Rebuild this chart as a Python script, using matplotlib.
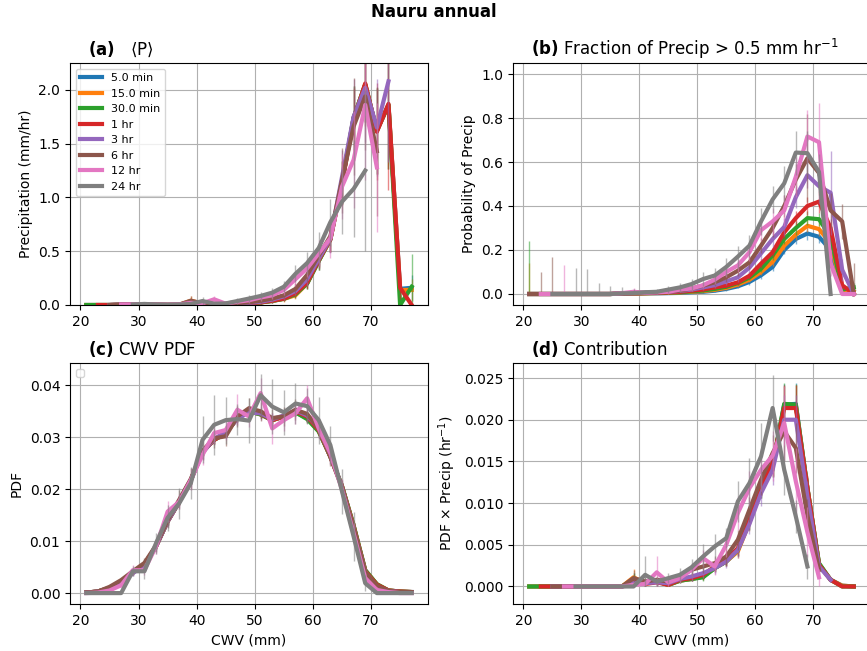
import matplotlib.pyplot as plt
import numpy as np

nan = np.nan

# CWV bin centres (mm)
cwv = [21, 23, 25, 27, 29, 31, 33, 35, 37, 39, 41, 43, 45, 47, 49,
       51, 53, 55, 57, 59, 61, 63, 65, 67, 69, 71, 73, 75, 77]

labels = ['5.0 min', '15.0 min', '30.0 min', '1 hr', '3 hr', '6 hr', '12 hr', '24 hr']
colors = ['tab:blue', 'tab:orange', 'tab:green', 'tab:red',
          'tab:purple', 'tab:brown', 'tab:pink', 'tab:gray']

# (a) conditional mean precip (mm/hr)
precip_mean = [
    [0, 0, 0, 0.003, 0.005, 0.004, 0.002, 0.001, 0.002, 0.03, 0.012, 0.006, 0.008, 0.010, 0.015,
     0.024, 0.038, 0.058, 0.10, 0.20, 0.41, 0.61, 1.14, 1.74, 2.05, 1.62, 1.86, 0.15, 0.16],
    [0, 0, 0, 0.003, 0.005, 0.004, 0.002, 0.001, 0.002, 0.04, 0.012, 0.006, 0.008, 0.010, 0.015,
     0.024, 0.038, 0.057, 0.09, 0.20, 0.41, 0.61, 1.14, 1.74, 2.05, 1.62, 1.86, 0.14, 0.14],
    [0, 0, 0, 0.003, 0.005, 0.004, 0.002, 0.001, 0.002, 0.03, 0.012, 0.006, 0.008, 0.010, 0.015,
     0.024, 0.038, 0.058, 0.10, 0.20, 0.41, 0.61, 1.14, 1.74, 2.05, 1.62, 1.86, 0.0, 0.17],
    [nan, 0, 0, 0.003, 0.005, 0.004, 0.002, 0.001, 0.002, 0.03, 0.012, 0.006, 0.008, 0.010, 0.015,
     0.025, 0.040, 0.060, 0.11, 0.21, 0.42, 0.61, 1.13, 1.72, 2.06, 1.61, 1.87, 0.16, 0.0],
    [nan, nan, 0, 0.004, 0.005, 0.004, 0.002, 0.001, 0.003, 0.02, 0.012, 0.008, 0.010, 0.015, 0.020,
     0.030, 0.050, 0.080, 0.13, 0.24, 0.43, 0.62, 1.19, 1.75, 2.02, 1.65, 2.08, nan, nan],
    [nan, nan, 0, 0.004, 0.006, 0.004, 0.003, 0.001, 0.004, 0.04, 0.015, 0.010, 0.012, 0.018, 0.025,
     0.040, 0.060, 0.090, 0.15, 0.28, 0.46, 0.64, 1.16, 1.66, 1.94, 1.43, nan, nan, nan],
    [nan, nan, nan, 0.005, 0.006, 0.006, 0.004, 0.002, 0.006, 0.02, 0.016, 0.053, 0.012, 0.030, 0.044,
     0.070, 0.090, 0.140, 0.24, 0.34, 0.48, 0.62, 1.10, 1.35, 1.86, 1.28, nan, nan, nan],
    [nan, nan, nan, nan, 0.005, 0.010, 0.005, 0.002, 0.005, 0.010, 0.037, 0.012, 0.015, 0.037, 0.060,
     0.084, 0.115, 0.170, 0.29, 0.39, 0.53, 0.77, 0.96, 1.08, 1.25, nan, nan, nan, nan],
]
precip_err = [
    [0, 0, 0, 0.004, 0.005, 0.004, 0.003, 0.001, 0.003, 0.03, 0.010, 0.006, 0.007, 0.008, 0.010,
     0.014, 0.018, 0.025, 0.035, 0.05, 0.08, 0.12, 0.20, 0.30, 0.35, 0.40, 0.60, 0.10, 0.12],
    [0, 0, 0, 0.004, 0.005, 0.004, 0.003, 0.001, 0.003, 0.04, 0.010, 0.006, 0.007, 0.008, 0.010,
     0.014, 0.018, 0.025, 0.035, 0.05, 0.08, 0.12, 0.20, 0.30, 0.35, 0.40, 0.60, 0.10, 0.10],
    [0, 0, 0, 0.004, 0.005, 0.004, 0.003, 0.001, 0.003, 0.03, 0.010, 0.006, 0.007, 0.008, 0.010,
     0.014, 0.018, 0.025, 0.035, 0.05, 0.08, 0.12, 0.20, 0.30, 0.35, 0.40, 0.60, 0.0, 0.30],
    [nan, 0, 0, 0.004, 0.005, 0.004, 0.003, 0.001, 0.003, 0.03, 0.010, 0.006, 0.007, 0.008, 0.010,
     0.014, 0.018, 0.025, 0.035, 0.05, 0.08, 0.12, 0.20, 0.30, 0.40, 0.45, 0.80, 0.10, 0.0],
    [nan, nan, 0, 0.004, 0.005, 0.004, 0.003, 0.001, 0.003, 0.02, 0.010, 0.008, 0.008, 0.010, 0.012,
     0.016, 0.020, 0.030, 0.04, 0.06, 0.09, 0.14, 0.25, 0.35, 0.50, 0.45, 0.75, nan, nan],
    [nan, nan, 0, 0.004, 0.006, 0.004, 0.003, 0.001, 0.004, 0.04, 0.012, 0.010, 0.010, 0.012, 0.015,
     0.020, 0.025, 0.035, 0.05, 0.07, 0.10, 0.15, 0.30, 0.45, 0.50, 0.60, nan, nan, nan],
    [nan, nan, nan, 0.005, 0.006, 0.006, 0.004, 0.002, 0.006, 0.02, 0.015, 0.030, 0.012, 0.020, 0.025,
     0.030, 0.035, 0.045, 0.06, 0.08, 0.12, 0.18, 0.30, 0.45, 0.70, 0.60, nan, nan, nan],
    [nan, nan, nan, nan, 0.005, 0.010, 0.005, 0.002, 0.005, 0.010, 0.040, 0.015, 0.015, 0.030, 0.035,
     0.040, 0.045, 0.050, 0.08, 0.10, 0.15, 0.22, 0.30, 0.45, 0.75, nan, nan, nan, nan],
]

# (b) probability of precip > 0.5 mm/hr
prob_mean = [
    [0, 0, 0, 0, 0, 0, 0, 0, 0.002, 0.002, 0.003, 0.003, 0.004, 0.005, 0.008,
     0.010, 0.015, 0.023, 0.035, 0.055, 0.085, 0.123, 0.20, 0.25, 0.275, 0.26, 0.20, 0.02, 0.01],
    [0, 0, 0, 0, 0, 0, 0, 0, 0.002, 0.002, 0.003, 0.004, 0.005, 0.007, 0.010,
     0.013, 0.019, 0.028, 0.043, 0.065, 0.10, 0.146, 0.22, 0.27, 0.31, 0.295, 0.23, 0.02, 0.01],
    [0, 0, 0, 0, 0, 0, 0, 0, 0.002, 0.003, 0.004, 0.005, 0.006, 0.008, 0.012,
     0.016, 0.023, 0.033, 0.050, 0.075, 0.115, 0.175, 0.25, 0.30, 0.345, 0.34, 0.26, 0.02, 0.03],
    [0, 0, 0, 0, 0, 0, 0, 0, 0.002, 0.003, 0.004, 0.006, 0.007, 0.010, 0.015,
     0.020, 0.030, 0.038, 0.053, 0.083, 0.138, 0.19, 0.28, 0.345, 0.40, 0.42, 0.30, 0.04, 0.0],
    [0, 0, 0, 0, 0, 0, 0, 0, 0.003, 0.004, 0.005, 0.008, 0.010, 0.014, 0.020,
     0.030, 0.040, 0.057, 0.076, 0.12, 0.185, 0.25, 0.305, 0.44, 0.54, 0.49, 0.46, 0.11, 0.0],
    [0, 0, 0, 0, 0, 0, 0, 0, 0.003, 0.005, 0.006, 0.008, 0.012, 0.015, 0.025,
     0.038, 0.053, 0.076, 0.106, 0.144, 0.22, 0.30, 0.40, 0.52, 0.617, 0.55, 0.38, 0.33, 0.0],
    [nan, 0, 0, 0, 0, 0, 0, 0, 0.004, 0.010, 0.006, 0.008, 0.010, 0.020, 0.025,
     0.040, 0.065, 0.10, 0.13, 0.19, 0.29, 0.33, 0.38, 0.533, 0.716, 0.69, 0.14, 0.0, 0.0],
    [nan, nan, 0, 0, 0, 0, 0, 0, 0.003, 0.004, 0.008, 0.010, 0.020, 0.030, 0.045,
     0.068, 0.084, 0.123, 0.17, 0.22, 0.33, 0.43, 0.503, 0.643, 0.64, 0.555, 0.0, nan, nan],
]
prob_err = [
    [0, 0, 0, 0, 0, 0, 0, 0, 0.002, 0.002, 0.002, 0.002, 0.003, 0.003, 0.004,
     0.005, 0.006, 0.008, 0.010, 0.012, 0.015, 0.02, 0.02, 0.025, 0.03, 0.03, 0.03, 0.02, 0.02],
    [0.14, 0, 0, 0, 0, 0, 0, 0, 0.002, 0.002, 0.002, 0.002, 0.003, 0.003, 0.004,
     0.005, 0.006, 0.008, 0.010, 0.012, 0.015, 0.02, 0.02, 0.025, 0.03, 0.03, 0.03, 0.02, 0.02],
    [0.24, 0, 0, 0, 0, 0, 0, 0, 0.002, 0.002, 0.002, 0.002, 0.003, 0.003, 0.004,
     0.005, 0.006, 0.008, 0.010, 0.012, 0.015, 0.02, 0.025, 0.03, 0.03, 0.03, 0.03, 0.02, 0.02],
    [0, 0, 0, 0, 0, 0, 0, 0, 0.002, 0.002, 0.003, 0.003, 0.003, 0.004, 0.005,
     0.006, 0.008, 0.010, 0.012, 0.015, 0.02, 0.02, 0.03, 0.03, 0.04, 0.05, 0.04, 0.02, 0.0],
    [0, 0, 0, 0, 0, 0, 0, 0, 0.002, 0.003, 0.003, 0.004, 0.005, 0.006, 0.008,
     0.010, 0.012, 0.015, 0.02, 0.025, 0.03, 0.035, 0.04, 0.05, 0.06, 0.08, 0.19, 0.05, 0.0],
    [0, 0.10, 0.17, 0, 0, 0, 0, 0, 0.003, 0.003, 0.004, 0.005, 0.006, 0.008, 0.010,
     0.012, 0.015, 0.02, 0.025, 0.03, 0.035, 0.04, 0.05, 0.07, 0.20, 0.10, 0.08, 0.08, 0.14],
    [nan, 0, 0, 0.13, 0, 0, 0, 0, 0.003, 0.015, 0.005, 0.006, 0.008, 0.010, 0.012,
     0.015, 0.02, 0.025, 0.03, 0.04, 0.05, 0.06, 0.07, 0.09, 0.12, 0.18, 0.06, 0.0, 0.0],
    [nan, nan, 0, 0, 0.12, 0.115, 0.05, 0.035, 0.028, 0.02, 0.012, 0.012, 0.015, 0.02, 0.025,
     0.03, 0.035, 0.04, 0.05, 0.05, 0.06, 0.06, 0.08, 0.10, 0.10, 0.08, 0.0, nan, nan],
]

# (c) CWV pdf
pdf_mean = [
    [0.0001, 0.0003, 0.001, 0.0022, 0.004, 0.0055, 0.009, 0.0138, 0.0176, 0.0218, 0.0272, 0.0295, 0.0308, 0.0337, 0.035,
     0.0344, 0.0333, 0.034, 0.0348, 0.0337, 0.0312, 0.0263, 0.0206, 0.013, 0.0044, 0.0017, 0.0005, 0.0003, 0.0002],
    [0.0001, 0.0003, 0.001, 0.0022, 0.004, 0.0055, 0.009, 0.0138, 0.0176, 0.0218, 0.0272, 0.0295, 0.0308, 0.0337, 0.035,
     0.0344, 0.0333, 0.034, 0.0348, 0.0337, 0.0312, 0.0263, 0.0206, 0.013, 0.0044, 0.0017, 0.0005, 0.0003, 0.0002],
    [0.0001, 0.0003, 0.001, 0.0022, 0.004, 0.0055, 0.009, 0.0138, 0.0176, 0.0218, 0.0272, 0.0295, 0.0308, 0.0337, 0.035,
     0.0344, 0.0333, 0.034, 0.0348, 0.0335, 0.0311, 0.0263, 0.0206, 0.013, 0.0044, 0.0017, 0.0005, 0.0003, 0.0002],
    [0.0001, 0.0003, 0.001, 0.0022, 0.004, 0.0055, 0.009, 0.0138, 0.0176, 0.0218, 0.0272, 0.0295, 0.0308, 0.0337, 0.035,
     0.0346, 0.0333, 0.034, 0.035, 0.034, 0.0314, 0.0263, 0.0205, 0.0128, 0.0042, 0.0016, 0.0005, 0.0003, 0.0002],
    [0.0001, 0.0003, 0.001, 0.002, 0.0038, 0.0055, 0.009, 0.0138, 0.0176, 0.0218, 0.027, 0.0297, 0.031, 0.0335, 0.0348,
     0.0346, 0.0335, 0.0342, 0.0352, 0.0342, 0.0318, 0.0268, 0.0203, 0.0124, 0.004, 0.0012, 0.0004, 0.0002, 0.0002],
    [0.0001, 0.0003, 0.0012, 0.0025, 0.0042, 0.0058, 0.0092, 0.014, 0.018, 0.022, 0.0274, 0.0298, 0.0302, 0.034, 0.0356,
     0.035, 0.0337, 0.034, 0.0353, 0.0345, 0.0316, 0.0262, 0.0203, 0.0125, 0.004, 0.0014, 0.0004, 0.0002, 0.0002],
    [0.0, 0.0001, 0.0005, 0.0015, 0.0044, 0.0044, 0.009, 0.0157, 0.0176, 0.0218, 0.0266, 0.0308, 0.0314, 0.0353, 0.034,
     0.0385, 0.0317, 0.0333, 0.0346, 0.0375, 0.0317, 0.0269, 0.0199, 0.0115, 0.0029, 0.0006, 0.0002, 0.0, 0.0],
    [0, 0, 0, 0, 0.0042, 0.0042, 0.0096, 0.0145, 0.0173, 0.0212, 0.0295, 0.0324, 0.0333, 0.0335, 0.0332,
     0.0381, 0.0359, 0.0348, 0.0365, 0.036, 0.0333, 0.0285, 0.0196, 0.0109, 0.0019, 0, 0, 0, 0],
]
pdf_err = [
    [0, 0, 0.0002, 0.0003, 0.0004, 0.0005, 0.0005, 0.0006, 0.0006, 0.0007, 0.0007, 0.0007, 0.0007, 0.0007, 0.0007,
     0.0007, 0.0007, 0.0007, 0.0007, 0.0007, 0.0007, 0.0007, 0.0006, 0.0005, 0.0003, 0.0002, 0.0001, 0, 0],
    [0, 0, 0.0002, 0.0003, 0.0004, 0.0005, 0.0005, 0.0006, 0.0006, 0.0007, 0.0007, 0.0007, 0.0007, 0.0007, 0.0007,
     0.0007, 0.0007, 0.0007, 0.0007, 0.0007, 0.0007, 0.0007, 0.0006, 0.0005, 0.0003, 0.0002, 0.0001, 0, 0],
    [0, 0, 0.0002, 0.0003, 0.0004, 0.0005, 0.0005, 0.0006, 0.0006, 0.0007, 0.0007, 0.0007, 0.0007, 0.0007, 0.0007,
     0.0007, 0.0007, 0.0007, 0.0007, 0.0007, 0.0007, 0.0007, 0.0006, 0.0005, 0.0003, 0.0002, 0.0001, 0, 0],
    [0, 0, 0.0002, 0.0003, 0.0004, 0.0005, 0.0006, 0.0007, 0.0007, 0.0008, 0.0008, 0.0008, 0.0008, 0.0008, 0.0008,
     0.0008, 0.0008, 0.0008, 0.0008, 0.0008, 0.0008, 0.0008, 0.0007, 0.0006, 0.0004, 0.0002, 0.0001, 0, 0],
    [0, 0, 0.0002, 0.0004, 0.0005, 0.0006, 0.0008, 0.001, 0.001, 0.0012, 0.0012, 0.0012, 0.0012, 0.0012, 0.0012,
     0.0012, 0.0012, 0.0012, 0.0012, 0.0012, 0.0012, 0.0012, 0.001, 0.0008, 0.0005, 0.0003, 0.0001, 0, 0],
    [0, 0, 0.0003, 0.0005, 0.0007, 0.0009, 0.0012, 0.0015, 0.0018, 0.002, 0.0018, 0.0018, 0.0018, 0.002, 0.002,
     0.0018, 0.0018, 0.0018, 0.002, 0.0018, 0.0018, 0.0018, 0.0015, 0.0012, 0.0007, 0.0004, 0.0002, 0, 0],
    [0, 0, 0, 0.0005, 0.001, 0.001, 0.0015, 0.002, 0.0015, 0.002, 0.002, 0.002, 0.002, 0.003, 0.002,
     0.003, 0.003, 0.002, 0.002, 0.0025, 0.002, 0.002, 0.002, 0.002, 0.001, 0.0005, 0, 0, 0],
    [0, 0, 0, 0, 0.001, 0.0015, 0.002, 0.0025, 0.003, 0.003, 0.0045, 0.0058, 0.0045, 0.003, 0.0043,
     0.004, 0.0053, 0.0043, 0.004, 0.0035, 0.0045, 0.0037, 0.0043, 0.0048, 0.0015, 0, 0, 0, 0],
]

# (d) pdf x precip contribution (1/hr)
contrib_mean = [
    [0, 0, 0, 0, 0, 0, 0, 0, 0, 0.0008, 0.0004, 0.0006, 0.0002, 0.0007, 0.0009,
     0.0012, 0.0022, 0.003, 0.0044, 0.0078, 0.0118, 0.0146, 0.0218, 0.0219, 0.0118, 0.0027, 0.0008, 0.0001, 0.0],
    [0, 0, 0, 0, 0, 0, 0, 0, 0, 0.0011, 0.0004, 0.0006, 0.0002, 0.0007, 0.0009,
     0.0012, 0.0022, 0.003, 0.0042, 0.0077, 0.0118, 0.0146, 0.0216, 0.0217, 0.0118, 0.0027, 0.0008, 0.0001, 0.0],
    [0, 0, 0, 0, 0, 0, 0, 0, 0, 0.0008, 0.0004, 0.0006, 0.0002, 0.0007, 0.0009,
     0.0011, 0.0022, 0.003, 0.0044, 0.0078, 0.0118, 0.0146, 0.0219, 0.0218, 0.0118, 0.0028, 0.0008, 0.0, 0.0],
    [nan, 0, 0, 0, 0, 0, 0, 0, 0, 0.0005, 0.0003, 0.0005, 0.0002, 0.0008, 0.001,
     0.0014, 0.0024, 0.0032, 0.0046, 0.008, 0.0121, 0.0148, 0.0214, 0.0214, 0.0118, 0.0026, 0.0008, 0.0, 0.0],
    [nan, nan, 0, 0, 0, 0, 0, 0, 0, 0.0004, 0.0004, 0.0005, 0.0004, 0.0009, 0.0012,
     0.0016, 0.0022, 0.003, 0.0044, 0.0075, 0.0112, 0.014, 0.020, 0.020, 0.0108, 0.0024, 0.0008, nan, nan],
    [nan, nan, 0, 0, 0, 0, 0, 0, 0, 0.001, 0.0006, 0.0008, 0.0006, 0.0012, 0.002,
     0.0024, 0.0028, 0.0036, 0.0056, 0.0092, 0.0128, 0.016, 0.0186, 0.0166, 0.0085, 0.002, nan, nan, nan],
    [nan, nan, nan, 0, 0, 0, 0, 0, 0, 0.0002, 0.0003, 0.0017, 0.0005, 0.001, 0.002,
     0.0034, 0.0024, 0.005, 0.0088, 0.0118, 0.014, 0.0157, 0.0196, 0.0126, 0.0065, 0.0011, nan, nan, nan],
    [nan, nan, nan, nan, 0, 0, 0, 0, 0, 0, 0.0014, 0.0006, 0.001, 0.0014, 0.0023,
     0.0036, 0.0048, 0.0058, 0.0102, 0.0124, 0.0156, 0.0214, 0.014, 0.0084, 0.0024, nan, nan, nan, nan],
]
contrib_err = [
    [0, 0, 0, 0, 0, 0, 0, 0, 0, 0.0008, 0.0003, 0.0004, 0.0002, 0.0003, 0.0003,
     0.0004, 0.0005, 0.0006, 0.0008, 0.001, 0.0012, 0.0015, 0.0025, 0.0025, 0.0015, 0.0005, 0.0002, 0.0001, 0],
    [0, 0, 0, 0, 0, 0, 0, 0, 0, 0.001, 0.0003, 0.0004, 0.0002, 0.0003, 0.0003,
     0.0004, 0.0005, 0.0006, 0.0008, 0.001, 0.0012, 0.0015, 0.0025, 0.0025, 0.0015, 0.0005, 0.0002, 0.0001, 0],
    [0, 0, 0, 0, 0, 0, 0, 0, 0, 0.0008, 0.0003, 0.0004, 0.0002, 0.0003, 0.0003,
     0.0004, 0.0005, 0.0006, 0.0008, 0.001, 0.0012, 0.0015, 0.0025, 0.0025, 0.0015, 0.0005, 0.0002, 0.0001, 0],
    [nan, 0, 0, 0, 0, 0, 0, 0, 0, 0.0006, 0.0003, 0.0004, 0.0002, 0.0003, 0.0004,
     0.0005, 0.0006, 0.0007, 0.0009, 0.0011, 0.0013, 0.0016, 0.0028, 0.0028, 0.0016, 0.0005, 0.0002, 0, 0],
    [nan, nan, 0, 0, 0, 0, 0, 0, 0, 0.0005, 0.0004, 0.0004, 0.0003, 0.0004, 0.0005,
     0.0006, 0.0007, 0.0008, 0.001, 0.0012, 0.0015, 0.0018, 0.003, 0.003, 0.0018, 0.0006, 0.0003, nan, nan],
    [nan, nan, 0, 0, 0, 0, 0, 0, 0, 0.001, 0.0005, 0.0005, 0.0004, 0.0005, 0.0006,
     0.0008, 0.0009, 0.001, 0.0012, 0.0015, 0.0018, 0.0022, 0.0035, 0.003, 0.002, 0.0006, nan, nan, nan],
    [nan, nan, nan, 0, 0, 0, 0, 0, 0, 0.0003, 0.0004, 0.002, 0.0005, 0.0006, 0.0008,
     0.001, 0.001, 0.0015, 0.002, 0.002, 0.0025, 0.003, 0.0045, 0.004, 0.003, 0.001, nan, nan, nan],
    [nan, nan, nan, nan, 0, 0, 0, 0, 0, 0, 0.0023, 0.0005, 0.0006, 0.0008, 0.001,
     0.0015, 0.0015, 0.0012, 0.0025, 0.003, 0.004, 0.004, 0.003, 0.002, 0.0015, nan, nan, nan, nan],
]


def draw_panel(ax, means, errs, with_labels=False):
    x = np.array(cwv)
    for i in range(len(labels)):
        m = np.array(means[i], dtype=float)
        e = np.array(errs[i], dtype=float)
        lo = np.minimum(e, np.abs(m))  # keep the bars from dipping below zero
        ax.errorbar(x, m, yerr=[lo, e], fmt='none', ecolor=colors[i],
                    elinewidth=1, alpha=0.55)
        ax.plot(x, m, color=colors[i], lw=3,
                label=labels[i] if with_labels else None)
    ax.set_xlim(18.2, 79.8)
    ax.set_xticks([20, 30, 40, 50, 60, 70])
    ax.grid(True)


W, H = 867, 651
fig = plt.figure(figsize=(W / 100, H / 100), dpi=100)


def box(left, top, width, height):
    return [left / W, 1 - (top + height) / H, width / W, height / H]


ax_a = fig.add_axes(box(70, 63, 358, 242))
ax_b = fig.add_axes(box(513, 63, 357, 242))
ax_c = fig.add_axes(box(70, 363, 358, 241))
ax_d = fig.add_axes(box(513, 363, 357, 241))

draw_panel(ax_a, precip_mean, precip_err, with_labels=True)
ax_a.set_ylim(0, 2.25)
ax_a.set_ylabel('Precipitation (mm/hr)')
ax_a.legend(loc='upper left', fontsize=8)
ax_a.set_title(r'$\bf{(a)}$   ⟨P⟩', loc='left', fontsize=12, x=0.05)

draw_panel(ax_b, prob_mean, prob_err)
ax_b.set_ylim(-0.05, 1.05)
ax_b.set_ylabel('Probability of Precip')
ax_b.set_title(r'$\bf{(b)}$ Fraction of Precip > 0.5 mm hr$^{-1}$',
               loc='left', fontsize=12, x=0.05)

draw_panel(ax_c, pdf_mean, pdf_err)
ax_c.set_ylim(-0.0021, 0.0443)
ax_c.set_yticks([0, 0.01, 0.02, 0.03, 0.04])
ax_c.set_ylabel('PDF')
ax_c.set_xlabel('CWV (mm)')
ax_c.legend(handles=[], loc='upper left', fontsize=8)
ax_c.set_title(r'$\bf{(c)}$ CWV PDF', loc='left', fontsize=12, x=0.05)

draw_panel(ax_d, contrib_mean, contrib_err)
ax_d.set_ylim(-0.0021, 0.0268)
ax_d.set_yticks([0, 0.005, 0.01, 0.015, 0.02, 0.025])
ax_d.set_ylabel(r'PDF $\times$ Precip (hr$^{-1}$)')
ax_d.set_xlabel('CWV (mm)')
ax_d.set_title(r'$\bf{(d)}$ Contribution', loc='left', fontsize=12, x=0.05)

fig.suptitle('Nauru annual', fontsize=12, fontweight='bold', y=0.995)

fig.savefig('out.png', dpi=100)
